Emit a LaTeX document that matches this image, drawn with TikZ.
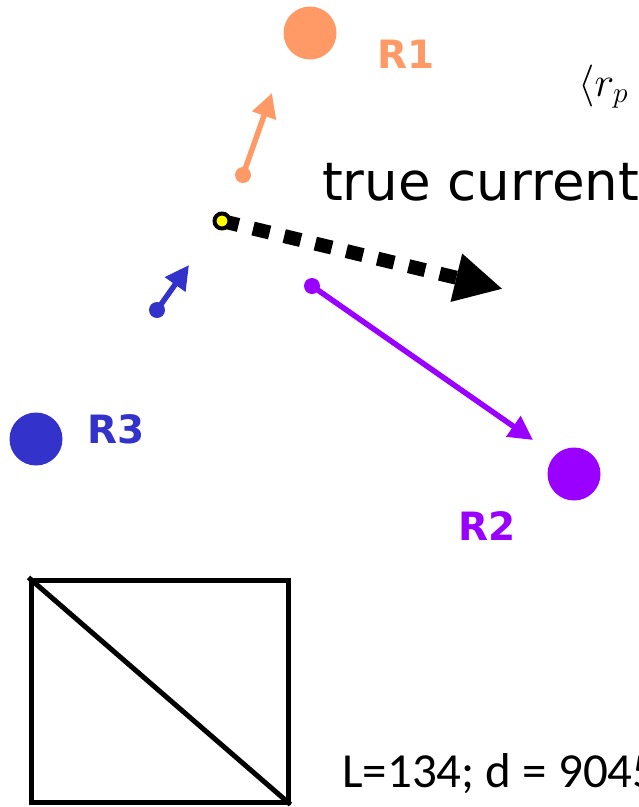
\RequirePackage{fix-cm}
\documentclass[tikz,border=0pt]{standalone}
\usepackage{fontspec}
\setsansfont{DejaVu Sans}
\newfontfamily\calib{Carlito}
\usepackage{tikz}
\usetikzlibrary{arrows.meta,positioning}
\definecolor{rone}{HTML}{FF9966}
\definecolor{rtwo}{HTML}{9900FF}
\definecolor{rthree}{HTML}{3333CC}
\definecolor{curfill}{HTML}{FFFF00}
\tikzset{site/.style={circle,inner sep=0pt,minimum size=53pt},tail/.style={circle,inner sep=0pt,minimum size=16pt},vec/.style={-{Triangle[length=24pt,width=24pt]},line width=5.5pt},lab/.style={anchor=base west,font=\sffamily\bfseries\fontsize{39}{39}\selectfont,inner sep=0pt},current/.style={-{Triangle[length=48pt,width=46pt]},line width=14pt,dash pattern=on 17pt off 15pt},curdot/.style={circle,draw=black,fill=curfill,line width=4pt,inner sep=0pt,minimum size=15pt}}

\begin{document}
\begin{tikzpicture}[x=1pt,y=-1pt]
\clip (0,0) rectangle (639,807);
\node[site,fill=rone] (r1) at (310,33) {};\node[site,fill=rtwo] (r2) at (574,474) {};\node[site,fill=rthree] (r3) at (36,439) {};
\node[lab,text=rone] (l1) at (377,68) {R1};\node[lab,text=rtwo] (l2) at (458,540) {R2};\node[lab,text=rthree] (l3) at (87,443) {R3};
\node[tail,fill=rone] (o1) at (243,175) {};\coordinate (t1) at (272,93);\draw[vec,rone] (o1.center)--(t1);
\node[tail,fill=rtwo] (o2) at (312,286) {};\coordinate (t2) at (533,440);\draw[vec,rtwo] (o2.center)--(t2);
\node[tail,fill=rthree] (o3) at (157,310) {};\coordinate (t3) at (189,265);\draw[vec,rthree] (o3.center)--(t3);
\coordinate (p) at (222,221);\coordinate (tc) at (503,289);\draw[current] (p)--(tc);\node[curdot] (cur) at (p) {};
\node[anchor=base west,inner sep=0pt,font=\sffamily\fontsize{53}{53}\selectfont] (tl) at (322,200) {true current};
\node[anchor=base west,inner sep=0pt,font=\fontsize{42}{42}\selectfont] (rp) at (578,96) {$\langle r_p$};
\node[anchor=base west,inner sep=0pt,font=\calib\fontsize{49}{49}\selectfont] (ld) at (342,787) {L=134; d = 9045};
\node[draw,line width=5pt,inner sep=0pt,minimum width=257pt,minimum height=222pt] (box) at (159.5,691) {};\draw[line width=5pt] (box.north west)--(box.south east);
\end{tikzpicture}
\end{document}
